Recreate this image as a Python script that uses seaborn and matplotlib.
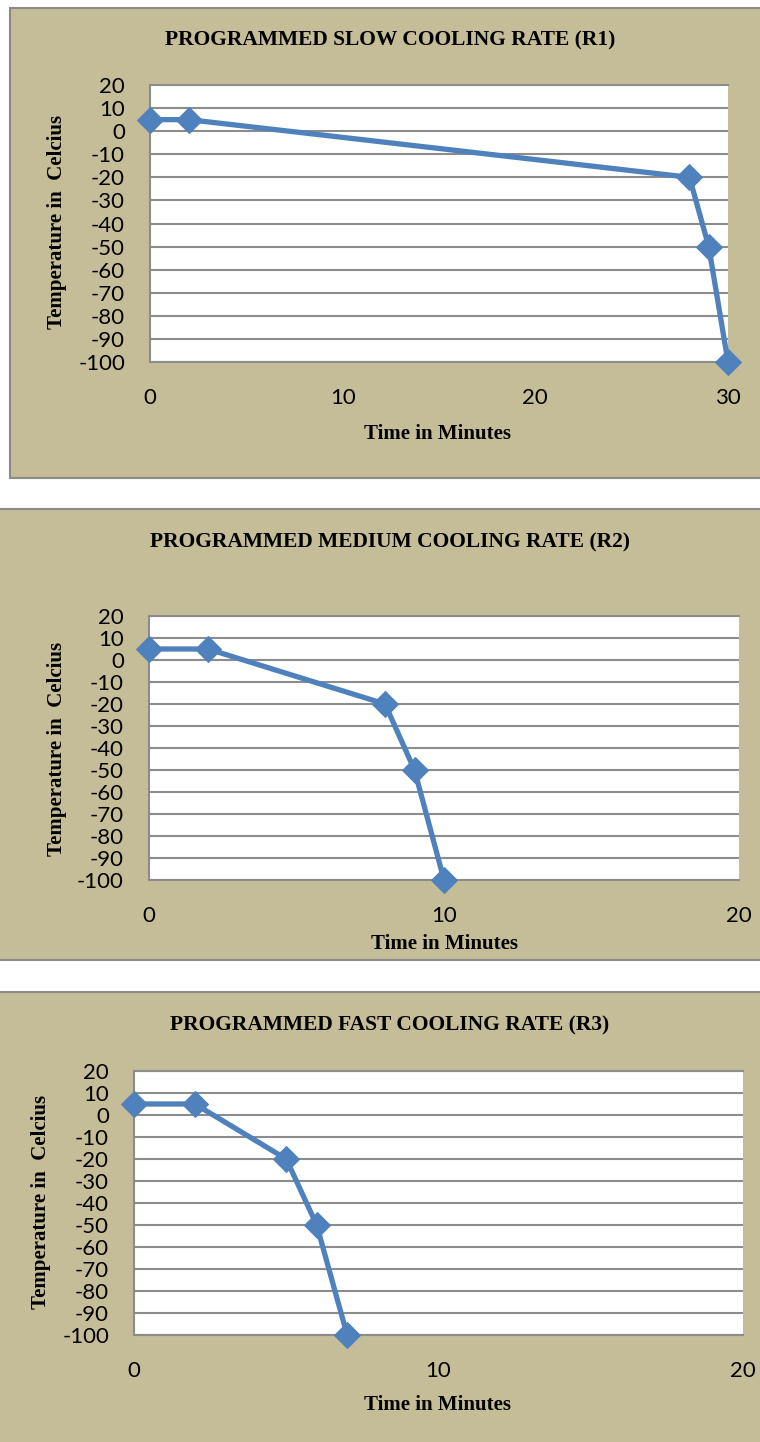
import matplotlib
matplotlib.use("Agg")
import matplotlib.pyplot as plt
from matplotlib.patches import Rectangle
import seaborn as sns

# data
time_r1 = [0, 2, 28, 29, 30]
time_r2 = [0, 2, 8, 9, 10]
time_r3 = [0, 2, 5, 6, 7]
temp = [5, 5, -20, -50, -100]

titles = ["PROGRAMMED SLOW COOLING RATE (R1)",
          "PROGRAMMED MEDIUM COOLING RATE (R2)",
          "PROGRAMMED FAST COOLING RATE (R3)"]
xmax_list = [30, 20, 20]
yticks = list(range(-100, 30, 10))

W, H = 760, 1442
TAN = "#C4BD97"
BLUE = "#4F81BD"
GRID = "#8C8C8C"
SERIF = "Liberation Serif"
TICKFONT = "Lato"

sns.set_style("white")
plt.rcParams["axes.unicode_minus"] = False

fig = plt.figure(figsize=(W / 100, H / 100), dpi=100)

def px(x, y):
    return x / W, 1 - y / H

def add_panel(x0, y0, x1, y1):
    r = Rectangle(px(x0, y1), (x1 - x0) / W, (y1 - y0) / H,
                  transform=fig.transFigure, facecolor=TAN,
                  edgecolor="#8A8A8A", linewidth=1.5, zorder=-5)
    fig.patches.append(r)

# panels: background box, plot box, title / label positions (pixels)
panels = [
    dict(box=(10, 8, 775, 478), ax=(150, 85, 728, 362), title=(390, 40),
         xlab=(438, 434), ylab=(57, 222), x=time_r1),
    dict(box=(-2, 509, 775, 960), ax=(149, 616, 739, 880), title=(390, 542),
         xlab=(444, 944), ylab=(57, 749), x=time_r2),
    dict(box=(-2, 992, 775, 1460), ax=(134, 1071, 743, 1335), title=(390, 1025),
         xlab=(438, 1405), ylab=(41, 1202), x=time_r3),
]

for i, p in enumerate(panels):
    add_panel(*p["box"])
    l, t, r, b = p["ax"]
    ax = fig.add_axes([l / W, 1 - b / H, (r - l) / W, (b - t) / H])
    ax.set_facecolor("white")

    sns.lineplot(x=p["x"], y=temp, ax=ax, color=BLUE, linewidth=3.8,
                 marker="D", markersize=13.5, markeredgecolor=BLUE,
                 clip_on=False, zorder=5)

    ax.set_xlim(0, xmax_list[i])
    ax.set_ylim(-100, 20)
    ax.set_xticks(list(range(0, xmax_list[i] + 1, 10)))
    ax.set_yticks(yticks)
    ax.yaxis.grid(True, color=GRID, linewidth=1.5)
    ax.xaxis.grid(False)
    ax.tick_params(axis="both", length=0, labelsize=16, labelcolor="black")
    ax.tick_params(axis="y", pad=18)
    ax.tick_params(axis="x", pad=19)
    for lab in ax.get_xticklabels() + ax.get_yticklabels():
        lab.set_fontfamily(TICKFONT)
    ax.spines["right"].set_visible(False)
    for s in ["left", "bottom", "top"]:
        ax.spines[s].set_color(GRID)
        ax.spines[s].set_linewidth(1.5)
    ax.set_xlabel("")
    ax.set_ylabel("")

    fig.text(*px(*p["title"]), titles[i], ha="center", va="center",
             family=SERIF, weight="bold", fontsize=15.5, color="black")
    fig.text(*px(*p["xlab"]), "Time in Minutes", ha="center", va="center",
             family=SERIF, weight="bold", fontsize=15, color="black")
    fig.text(*px(*p["ylab"]), "Temperature in  Celcius", ha="center",
             va="center", rotation=90, family=SERIF, weight="bold",
             fontsize=15, color="black")

fig.savefig("out.png", dpi=100, facecolor="white")
